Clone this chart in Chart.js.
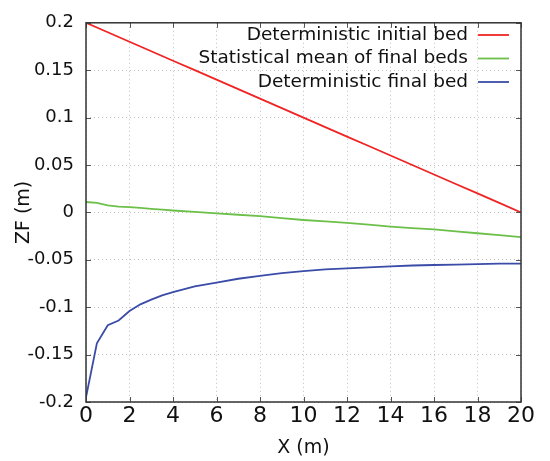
<!DOCTYPE html>
<html>
<head>
<meta charset="utf-8">
<script src="https://cdn.jsdelivr.net/npm/chart.js@4"></script>
<style>
  html, body { margin: 0; padding: 0; background: #fff; }
  #wrap { width: 550px; height: 461px; }
</style>
</head>
<body>
<div id="wrap"><canvas id="bedChart" width="550" height="461"></canvas></div>
<script>
// Data
const xPos = [0, 0.5, 1, 1.5, 2, 2.5, 3, 3.5, 4, 5, 6, 7, 8, 9, 10, 11, 12, 13, 14, 15, 16, 17, 18, 19, 20];
const initialBed = [0.2, 0.195, 0.19, 0.185, 0.18, 0.175, 0.17, 0.165, 0.16, 0.15, 0.14, 0.13, 0.12, 0.11, 0.1, 0.09, 0.08, 0.07, 0.06, 0.05, 0.04, 0.03, 0.02, 0.01, 0];
const meanFinalBeds = [0.011, 0.010, 0.0075, 0.006, 0.0055, 0.0047, 0.0038, 0.003, 0.002, 0.0005, -0.001, -0.0025, -0.004, -0.006, -0.008, -0.0095, -0.011, -0.013, -0.015, -0.0165, -0.018, -0.020, -0.022, -0.024, -0.026];
const finalBed = [-0.195, -0.138, -0.119, -0.114, -0.104, -0.097, -0.092, -0.0875, -0.084, -0.078, -0.074, -0.070, -0.067, -0.064, -0.062, -0.060, -0.059, -0.058, -0.057, -0.056, -0.0555, -0.055, -0.0545, -0.054, -0.054];
const seriesLabels = ['Deterministic initial bed', 'Statistical mean of final beds', 'Deterministic final bed'];
const seriesColors = ['#f02424', '#6cc04a', '#3a4ca8'];
const xTicks = [0, 2, 4, 6, 8, 10, 12, 14, 16, 18, 20];
const yTicks = [-0.2, -0.15, -0.1, -0.05, 0, 0.05, 0.1, 0.15, 0.2];

const FONT = 'DejaVu Sans';

function toPoints(values) {
    return values.map((v, i) => ({ x: xPos[i], y: v }));
}

// gnuplot-like frame with inward ticks and an in-plot legend
const framePlugin = {
    id: 'frame',
    afterDraw(chart) {
        const ctx = chart.ctx;
        const a = chart.chartArea;
        const xs = chart.scales.x;
        const ys = chart.scales.y;
        ctx.save();
        ctx.strokeStyle = '#555';
        ctx.lineWidth = 1;
        xTicks.forEach(t => {
            const px = Math.round(xs.getPixelForValue(t)) + 0.5;
            ctx.beginPath();
            ctx.moveTo(px, a.bottom); ctx.lineTo(px, a.bottom - 5);
            ctx.moveTo(px, a.top); ctx.lineTo(px, a.top + 5);
            ctx.stroke();
        });
        yTicks.forEach(t => {
            const py = Math.round(ys.getPixelForValue(t)) + 0.5;
            ctx.beginPath();
            ctx.moveTo(a.left, py); ctx.lineTo(a.left + 5, py);
            ctx.moveTo(a.right, py); ctx.lineTo(a.right - 5, py);
            ctx.stroke();
        });
        ctx.strokeStyle = '#333';
        ctx.lineWidth = 1.5;
        ctx.strokeRect(a.left, a.top, a.right - a.left, a.bottom - a.top);

        // legend, text right aligned with the sample line on its right
        ctx.font = '18.5px "' + FONT + '"';
        ctx.textAlign = 'right';
        ctx.textBaseline = 'middle';
        chart.data.datasets.forEach((ds, i) => {
            const y = 35 + i * 23.5;
            ctx.fillStyle = '#111';
            ctx.fillText(ds.label, 468, y);
            ctx.strokeStyle = ds.borderColor;
            ctx.lineWidth = 1.8;
            ctx.beginPath();
            ctx.moveTo(478, y); ctx.lineTo(509, y);
            ctx.stroke();
        });
        ctx.restore();
    }
};

const ctx = document.getElementById('bedChart').getContext('2d');
const chart = new Chart(ctx, {
    type: 'line',
    data: {
        datasets: [
            { label: seriesLabels[0], data: toPoints(initialBed), borderColor: seriesColors[0] },
            { label: seriesLabels[1], data: toPoints(meanFinalBeds), borderColor: seriesColors[1] },
            { label: seriesLabels[2], data: toPoints(finalBed), borderColor: seriesColors[2] }
        ]
    },
    options: {
        responsive: false,
        animation: false,
        layout: { padding: { top: 20, right: 29, left: 0, bottom: 0 } },
        elements: {
            point: { radius: 0 },
            line: { borderWidth: 1.8, tension: 0 }
        },
        plugins: {
            legend: { display: false },
            tooltip: { enabled: false }
        },
        scales: {
            x: {
                type: 'linear',
                min: 0,
                max: 20,
                afterBuildTicks: scale => { scale.ticks = xTicks.map(v => ({ value: v })); },
                afterFit: scale => { scale.height = 59; },
                grid: { color: '#c0c0c0', drawTicks: false },
                border: { display: false, dash: [1, 3] },
                ticks: { color: '#111', padding: 1, font: { family: FONT, size: 22 } },
                title: { display: true, text: 'X (m)', color: '#111', font: { family: FONT, size: 19 }, padding: { top: 0, bottom: 2 } }
            },
            y: {
                type: 'linear',
                min: -0.2,
                max: 0.2,
                afterBuildTicks: scale => { scale.ticks = yTicks.map(v => ({ value: v })); },
                afterFit: scale => { scale.width = 86; },
                grid: { color: '#c0c0c0', drawTicks: false },
                border: { display: false, dash: [1, 3] },
                ticks: {
                    color: '#111',
                    padding: 12,
                    font: { family: FONT, size: 18 },
                    callback: v => String(parseFloat(Number(v).toFixed(2)))
                },
                title: { display: true, text: 'ZF (m)', color: '#111', font: { family: FONT, size: 19 }, padding: { top: 13, bottom: 0 } }
            }
        }
    },
    plugins: [framePlugin]
});
</script>
</body>
</html>
